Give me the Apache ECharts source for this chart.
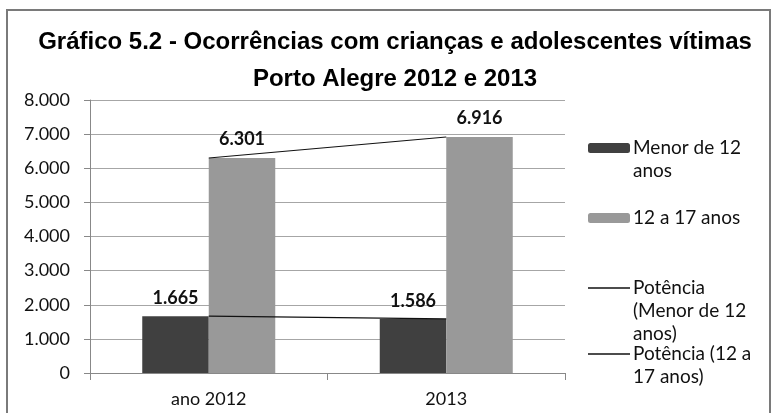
<!DOCTYPE html>
<html>
<head>
<meta charset="utf-8">
<script src="https://cdn.jsdelivr.net/npm/echarts@6/dist/echarts.min.js"></script>
<style>
  html, body { margin: 0; padding: 0; background: #fff; }
  #chart { width: 772px; height: 413px; }
</style>
</head>
<body>
<div id="chart"></div>
<script>
// Ocorrências por faixa etária, Porto Alegre
const categories = ['ano 2012', '2013'];
const menorDe12 = [1665, 1586];
const de12a17 = [6301, 6916];
// Linhas de tendência (potência) passando pelos mesmos valores
const tendMenorDe12 = [1665, 1586];
const tend12a17 = [6301, 6916];
const yMax = 8000;
const yStep = 1000;

const serieNomes = ['Menor de 12 anos', '12 a 17 anos', 'Potência (Menor de 12 anos)', 'Potência (12 a 17 anos)'];
const legendaLinhas = {
  'Menor de 12 anos': ['Menor de 12', 'anos'],
  '12 a 17 anos': ['12 a 17 anos'],
  'Potência (Menor de 12 anos)': ['Potência', '(Menor de 12', 'anos)'],
  'Potência (12 a 17 anos)': ['Potência (12 a', '17 anos)']
};

function milhar(v) {
  return String(v).replace(/\B(?=(\d{3})+(?!\d))/g, '.');
}

const fonteTexto = 'Lato, "Open Sans", sans-serif';
const alturaLinha = 23;

// Linhas vazias antes do texto deixam a primeira linha centrada no ícone
function textoLegenda(nome) {
  const linhas = legendaLinhas[nome];
  return new Array(linhas.length - 1).fill('').concat(linhas).join('\n');
}

// Uma legenda por item; "centro" é a altura da primeira linha do texto
function legenda(nome, centro, linha) {
  const n = legendaLinhas[nome].length;
  return {
    data: [linha ? { name: nome, icon: 'rect' } : nome],
    left: 588,
    top: centro - (n - 0.5) * alturaLinha,
    padding: 0,
    itemWidth: 42,
    itemHeight: linha ? 1.3 : 10,
    itemGap: 0,
    selectedMode: false,
    formatter: textoLegenda,
    textStyle: {
      fontFamily: fonteTexto,
      fontSize: 19,
      color: '#111',
      lineHeight: alturaLinha,
      padding: [0, 0, 0, -2]
    }
  };
}

const chart = echarts.init(document.getElementById('chart'), null, { renderer: 'canvas' });

chart.setOption({
  animation: false,
  backgroundColor: '#fff',
  graphic: [{
    type: 'rect',
    shape: { x: 7, y: 10, width: 763, height: 420 },
    style: { fill: 'none', stroke: '#7a7a7a', lineWidth: 2 },
    silent: true
  }],
  title: {
    text: 'Gráfico 5.2 - Ocorrências com crianças e adolescentes vítimas\nPorto Alegre 2012 e 2013',
    left: 395,
    top: 24,
    padding: 0,
    textAlign: 'center',
    textStyle: {
      fontFamily: '"Liberation Sans", Arial, sans-serif',
      fontWeight: 'bold',
      fontSize: 24,
      lineHeight: 37,
      color: '#000'
    }
  },
  legend: [
    legenda(serieNomes[0], 148, false),
    legenda(serieNomes[1], 218, false),
    legenda(serieNomes[2], 288, true),
    legenda(serieNomes[3], 354, true)
  ],
  grid: { left: 90, right: 207, top: 100, bottom: 40 },
  xAxis: {
    type: 'category',
    data: categories,
    axisLine: { lineStyle: { color: '#888', width: 1 } },
    axisTick: { show: true, length: 7, lineStyle: { color: '#888' } },
    axisLabel: {
      fontFamily: fonteTexto,
      fontSize: 18,
      color: '#111',
      margin: 17
    }
  },
  yAxis: {
    type: 'value',
    min: 0,
    max: yMax,
    interval: yStep,
    axisLine: { show: true, lineStyle: { color: '#888', width: 1 } },
    axisTick: { show: true, length: 6, lineStyle: { color: '#888' } },
    splitLine: { lineStyle: { color: '#a6a6a6', width: 1 } },
    axisLabel: {
      fontFamily: fonteTexto,
      fontSize: 18,
      color: '#111',
      margin: 20,
      formatter: v => milhar(v)
    }
  },
  series: [
    {
      name: serieNomes[0],
      type: 'bar',
      data: menorDe12,
      barGap: '0%',
      barCategoryGap: '44%',
      itemStyle: { color: '#404040' },
      label: {
        show: true,
        position: 'top',
        distance: 9,
        fontFamily: fonteTexto,
        fontWeight: 'bold',
        fontSize: 18,
        color: '#111',
        formatter: p => milhar(p.value)
      }
    },
    {
      name: serieNomes[1],
      type: 'bar',
      data: de12a17,
      itemStyle: { color: '#999999' },
      label: {
        show: true,
        position: 'top',
        distance: 10,
        fontFamily: fonteTexto,
        fontWeight: 'bold',
        fontSize: 18,
        color: '#111',
        formatter: p => milhar(p.value)
      }
    },
    {
      name: serieNomes[2],
      type: 'line',
      data: tendMenorDe12,
      symbol: 'none',
      z: 5,
      lineStyle: { color: '#111', width: 1.2 },
      itemStyle: { color: '#111' }
    },
    {
      name: serieNomes[3],
      type: 'line',
      data: tend12a17,
      symbol: 'none',
      z: 5,
      lineStyle: { color: '#111', width: 1.2 },
      itemStyle: { color: '#111' }
    }
  ]
});
</script>
</body>
</html>
